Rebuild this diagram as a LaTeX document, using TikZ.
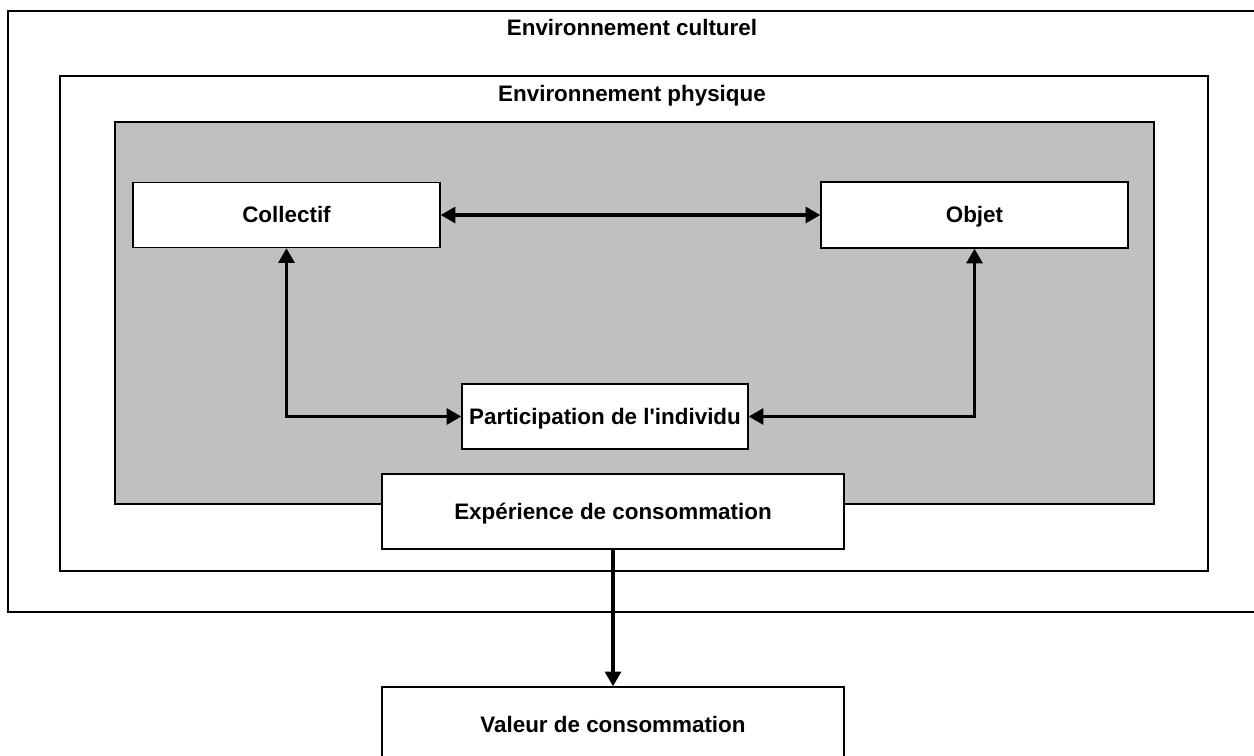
\documentclass[tikz,border=0pt]{standalone}
\usepackage{fontspec}
\setmainfont{Liberation Sans}
\usetikzlibrary{arrows.meta}
\definecolor{panelgray}{HTML}{C0C0C0}
\begin{document}
\begin{tikzpicture}[x=0.75pt,y=-0.75pt,
  frame/.style={draw=black,line width=1.2pt},
  box/.style={draw=black,fill=white,line width=1.1pt,inner sep=0pt,
    text height=12pt,text depth=0pt,
    font=\bfseries\fontsize{16.8pt}{19pt}\selectfont},
  title/.style={inner sep=0pt,text height=12pt,text depth=0pt,
    font=\bfseries\fontsize{16.8pt}{19pt}\selectfont},
  link/.style={line width=2.3pt,-{Triangle[length=11pt,width=12pt]}},
  biglink/.style={line width=2.3pt,{Triangle[length=11pt,width=12pt]}-{Triangle[length=11pt,width=12pt]}}]
  \useasboundingbox (0,0) rectangle (1254,756);
  \clip (0,0) rectangle (1254,756);
  \fill[white] (0,0) rectangle (1254,756);
  % nested environments
  \draw[frame] (8,11) rectangle (1270,612);
  \node[title] (cult) at (632,27.5) {Environnement culturel};
  \draw[frame] (60,76) rectangle (1208,571);
  \node[title] (phys) at (632,94) {Environnement physique};
  \draw[frame,fill=panelgray] (115,122) rectangle (1154,504);
  % boxes
  \node[box,minimum width=307*0.75pt,minimum height=65*0.75pt] (coll) at (286.5,215) {Collectif};
  \node[box,minimum width=307*0.75pt,minimum height=66*0.75pt] (obj) at (974.5,215) {Objet};
  \node[box,minimum width=286*0.75pt,minimum height=65*0.75pt] (part) at (605,416.5) {Participation de l\textquotesingle individu};
  \node[box,minimum width=462*0.75pt,minimum height=75*0.75pt] (exp) at (613,511.5) {Expérience de consommation};
  \node[box,minimum width=462*0.75pt,minimum height=75*0.75pt] (val) at (613,724.5) {Valeur de consommation};
  % connectors
  \draw[biglink] (coll.east) -- (obj.west);
  \draw[biglink] (coll.south) |- (part.west);
  \draw[biglink] (obj.south) |- (part.east);
  \draw[link] (exp.south) -- (val.north);
\end{tikzpicture}
\end{document}
